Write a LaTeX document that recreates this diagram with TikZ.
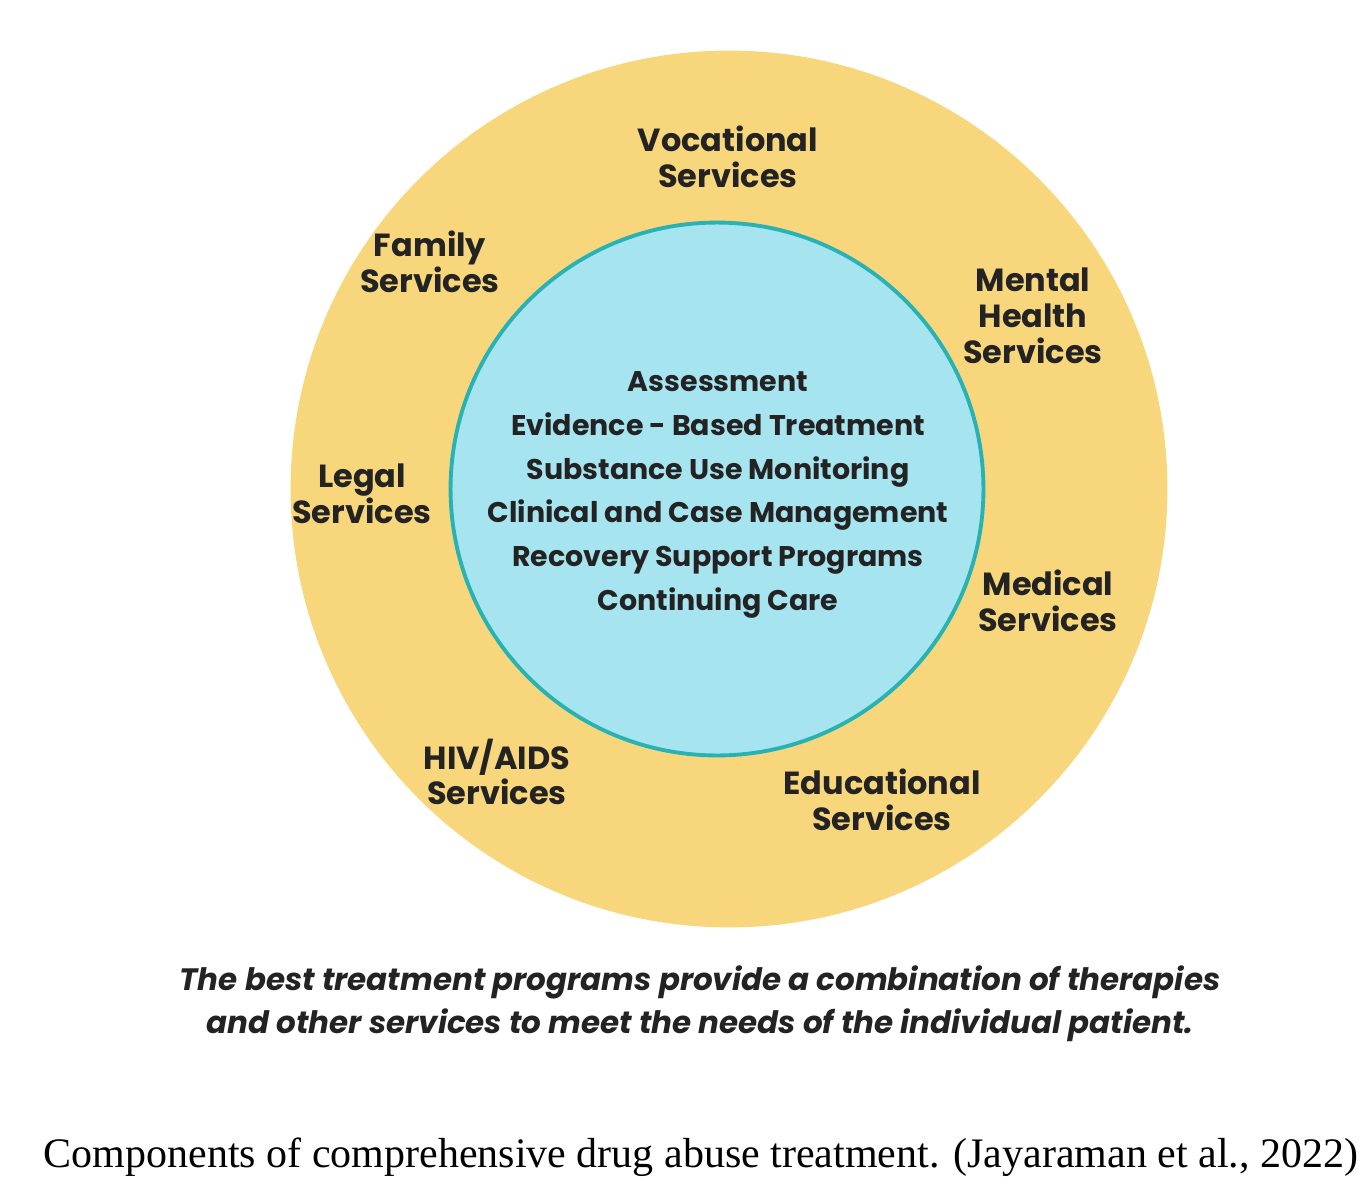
\documentclass[tikz,border=0pt]{standalone}
\usepackage{fontspec}
\setmainfont{Liberation Serif}
\newfontfamily\labelfont{Poppins}
\usetikzlibrary{positioning}
\definecolor{ringyellow}{RGB}{248,214,124}
\definecolor{corecyan}{RGB}{166,228,240}
\definecolor{coreedge}{RGB}{40,178,180}
\definecolor{inktext}{RGB}{35,35,35}

\begin{document}
\begin{tikzpicture}[x=0.02cm, y=-0.02cm,
    svc/.style={align=center, text=inktext, inner sep=0pt,
      font=\labelfont\bfseries\fontsize{18.2}{20.4}\selectfont},
    core/.style={align=center, text=inktext, inner sep=0pt,
      font=\labelfont\bfseries\fontsize{16.2}{24.9}\selectfont}]
  \useasboundingbox[fill=white] (0,0) rectangle (1369,1200);

  % the two rings
  \node[circle, fill=ringyellow, inner sep=0pt, minimum size=17.54cm] (ring) at (729,489) {};
  \node[circle, fill=corecyan, draw=coreedge, line width=2.2pt, inner sep=0pt,
        minimum size=10.66cm] (hub) at (717,489) {};

  % what sits in the centre
  \node[core] (tasks) at (718,495) {Assessment\\Evidence - Based Treatment\\Substance Use Monitoring\\
    Clinical and Case Management\\Recovery Support Programs\\Continuing Care};

  % services round the outside
  \node[svc] (voc) at (728,157) {Vocational\\Services};
  \node[svc] (fam) at (430,262) {Family\\Services};
  \node[svc] (mental) at (1033,316) {Mental\\Health\\Services};
  \node[svc] (legal) at (362,494) {Legal\\Services};
  \node[svc] (medical) at (1048,601) {Medical\\Services};
  \node[svc] (hiv) at (497,772) {HIV/AIDS\\Services};
  \node[svc] (edu) at (882,800) {Educational\\Services};

  \node[align=center, text=inktext, inner sep=0pt,
        font=\labelfont\bfseries\itshape\fontsize{17.6}{24.4}\selectfont] (note) at (700,1004)
    {The best treatment programs provide a combination of therapies\\
     and other services to meet the needs of the individual patient.};

  \node[inner sep=0pt, font=\fontsize{23.9}{26}\selectfont] (cap) at (701,1157)
    {Components of comprehensive drug abuse treatment. (Jayaraman et al., 2022)};
\end{tikzpicture}
\end{document}
